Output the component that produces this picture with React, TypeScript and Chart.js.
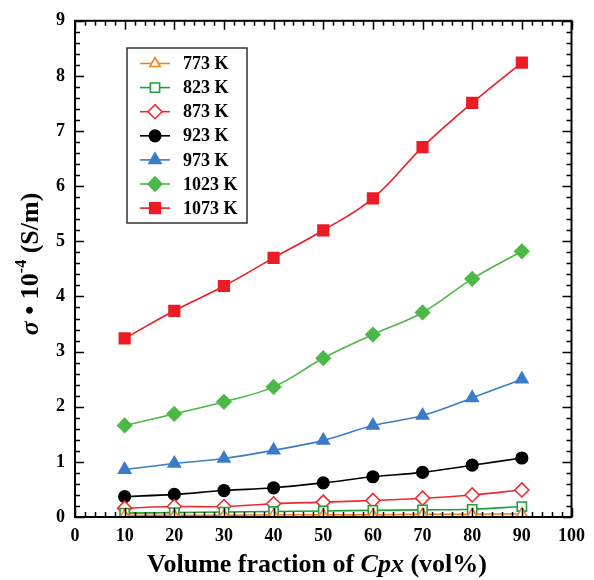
import React, { useEffect, useRef } from "react";
import { Chart, registerables } from "chart.js";
import { drawPoint } from "chart.js/helpers";
Chart.register(...registerables);

const xValues = [10, 20, 30, 40, 50, 60, 70, 80, 90];
const s773 = [0.03, 0.03, 0.03, 0.04, 0.04, 0.04, 0.05, 0.05, 0.06];
const s823 = [0.07, 0.08, 0.09, 0.1, 0.11, 0.12, 0.13, 0.14, 0.19];
const s873 = [0.16, 0.19, 0.19, 0.24, 0.27, 0.3, 0.34, 0.4, 0.49];
const s923 = [0.37, 0.41, 0.48, 0.53, 0.62, 0.73, 0.81, 0.94, 1.07];
const s973 = [0.86, 0.97, 1.06, 1.21, 1.39, 1.66, 1.84, 2.16, 2.5];
const s1023 = [1.66, 1.87, 2.09, 2.36, 2.88, 3.31, 3.71, 4.32, 4.82];
const s1073 = [3.24, 3.74, 4.19, 4.7, 5.2, 5.78, 6.71, 7.51, 8.24];

const seriesNames = ["773 K", "823 K", "873 K", "923 K", "973 K", "1023 K", "1073 K"];
const seriesValues = [s773, s823, s873, s923, s973, s1023, s1073];
const seriesColors = ["#f5821f", "#1f9e3a", "#ee2a2e", "#000000", "#3b7cc8", "#4cb848", "#ed1c24"];
const seriesMarkers = ["triangle", "rect", "rectRot", "circle", "triangle", "rectRot", "rect"];
const seriesFilled = [false, false, false, true, true, true, true];
const markerRadius = [6, 6.5, 7, 5.8, 7, 7, 7.5];

const xTicks = { min: 0, max: 100, step: 10, minor: 2 };
const yTicks = { min: 0, max: 9, step: 1, minor: 0.2 };

const FONT = "'Liberation Serif', 'Times New Roman', serif";

const framePlugin = {
  id: "framePlugin",
  afterDraw(chart: any) {
    const { ctx, chartArea } = chart;
    const { left, right, top, bottom } = chartArea;
    const xs = chart.scales.x;
    const ys = chart.scales.y;
    ctx.save();
    ctx.strokeStyle = "#000";
    ctx.lineWidth = 2;
    ctx.strokeRect(left, top, right - left, bottom - top);
    ctx.lineWidth = 1.5;
    for (let v = xTicks.min; v <= xTicks.max + 1e-9; v += xTicks.minor) {
      const major = Math.abs(v / xTicks.step - Math.round(v / xTicks.step)) < 1e-6;
      const len = major ? 9 : 5;
      const px = Math.round(xs.getPixelForValue(v)) + 0.5;
      ctx.beginPath();
      ctx.moveTo(px, bottom);
      ctx.lineTo(px, bottom - len);
      ctx.moveTo(px, top);
      ctx.lineTo(px, top + len);
      ctx.stroke();
    }
    for (let v = yTicks.min; v <= yTicks.max + 1e-9; v += yTicks.minor) {
      const major = Math.abs(v / yTicks.step - Math.round(v / yTicks.step)) < 1e-6;
      const len = major ? 9 : 5;
      const py = Math.round(ys.getPixelForValue(v)) + 0.5;
      ctx.beginPath();
      ctx.moveTo(left, py);
      ctx.lineTo(left + len, py);
      ctx.moveTo(right, py);
      ctx.lineTo(right - len, py);
      ctx.stroke();
    }

    // legend
    const lx = 127, ly = 48, lw = 120, lh = 175;
    ctx.fillStyle = "#fff";
    ctx.fillRect(lx, ly, lw, lh);
    ctx.lineWidth = 1.5;
    ctx.strokeStyle = "#333";
    ctx.strokeRect(lx, ly, lw, lh);
    chart.data.datasets.forEach((ds: any, i: number) => {
      const cy = 63.5 + i * 24.1;
      ctx.strokeStyle = ds.borderColor;
      ctx.lineWidth = 1.6;
      ctx.beginPath();
      ctx.moveTo(140, cy);
      ctx.lineTo(170, cy);
      ctx.stroke();
      ctx.save();
      ctx.fillStyle = ds.pointBackgroundColor;
      ctx.strokeStyle = ds.pointBorderColor;
      ctx.lineWidth = ds.pointBorderWidth;
      drawPoint(ctx, { pointStyle: ds.pointStyle, radius: ds.pointRadius, rotation: 0, borderWidth: ds.pointBorderWidth } as any, 155, cy);
      ctx.restore();
      ctx.fillStyle = "#000";
      ctx.font = `bold 18px ${FONT}`;
      ctx.textAlign = "left";
      ctx.textBaseline = "middle";
      ctx.fillText(ds.label, 183, cy + 1);
    });

    // x title
    ctx.fillStyle = "#000";
    ctx.textBaseline = "middle";
    const xParts = [
      { t: "Volume fraction of ", f: `bold 26px ${FONT}` },
      { t: "Cpx", f: `italic bold 26px ${FONT}` },
      { t: " (vol%)", f: `bold 26px ${FONT}` },
    ];
    let total = 0;
    xParts.forEach((p) => { ctx.font = p.f; total += ctx.measureText(p.t).width; });
    let x0 = 317 - total / 2;
    ctx.textAlign = "left";
    xParts.forEach((p) => { ctx.font = p.f; ctx.fillText(p.t, x0, 565); x0 += ctx.measureText(p.t).width; });

    // y title
    ctx.save();
    ctx.translate(31, 264);
    ctx.rotate(-Math.PI / 2);
    const yParts = [
      { t: "σ", f: `italic bold 26px ${FONT}`, dy: 0 },
      { t: " • 10", f: `bold 26px ${FONT}`, dy: 0 },
      { t: "-4", f: `bold 16px ${FONT}`, dy: -9 },
      { t: " (S/m)", f: `bold 26px ${FONT}`, dy: 0 },
    ];
    let tw = 0;
    yParts.forEach((p) => { ctx.font = p.f; tw += ctx.measureText(p.t).width; });
    let yx = -tw / 2;
    yParts.forEach((p) => { ctx.font = p.f; ctx.fillText(p.t, yx, p.dy); yx += ctx.measureText(p.t).width; });
    ctx.restore();
    ctx.restore();
  },
};

export default function App() {
  const ref = useRef<HTMLCanvasElement | null>(null);
  useEffect(() => {
    if (!ref.current) return;
    const datasets = seriesValues.map((vals, i) => ({
      label: seriesNames[i],
      data: vals.map((v, j) => ({ x: xValues[j], y: v })),
      borderColor: seriesColors[i],
      backgroundColor: seriesFilled[i] ? seriesColors[i] : "#ffffff",
      pointBackgroundColor: seriesFilled[i] ? seriesColors[i] : "#ffffff",
      pointBorderColor: seriesColors[i],
      pointStyle: seriesMarkers[i],
      pointRadius: markerRadius[i],
      pointBorderWidth: 1.6,
      borderWidth: 1.6,
      tension: 0.4,
      fill: false,
    }));
    const chart = new Chart(ref.current, {
      type: "line",
      data: { datasets } as any,
      options: {
        responsive: false,
        animation: false,
        layout: { padding: { top: 17, right: 22, left: 0, bottom: 0 } },
        plugins: { legend: { display: false }, tooltip: { enabled: false } },
        scales: {
          x: {
            type: "linear",
            min: xTicks.min,
            max: xTicks.max,
            grid: { display: false, drawTicks: false },
            border: { display: false },
            ticks: { stepSize: xTicks.step, padding: 9, color: "#000", font: { family: FONT, size: 18, weight: "bold" } },
            afterFit: (s: any) => { s.height = 63; },
          },
          y: {
            type: "linear",
            min: yTicks.min,
            max: yTicks.max,
            grid: { display: false, drawTicks: false },
            border: { display: false },
            ticks: { stepSize: yTicks.step, padding: 10, color: "#000", font: { family: FONT, size: 18, weight: "bold" } },
            afterFit: (s: any) => { s.width = 75; },
          },
        },
      } as any,
      plugins: [framePlugin],
    });
    return () => chart.destroy();
  }, []);
  return (
    <div style={{ position: "absolute", left: 0, top: 0, width: 594, height: 580, background: "#fff" }}>
      <canvas ref={ref} width={594} height={580} style={{ display: "block" }} />
    </div>
  );
}
